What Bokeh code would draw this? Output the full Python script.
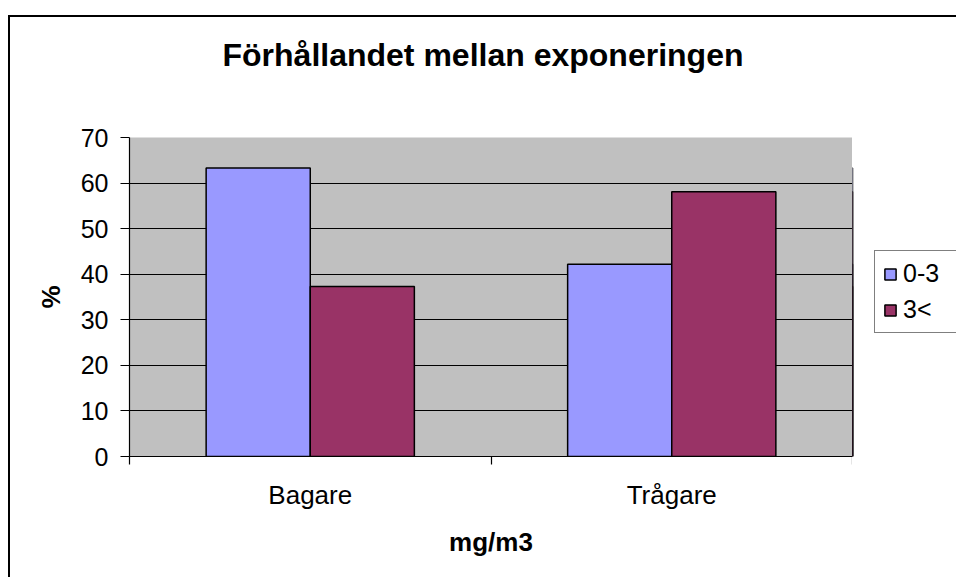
from bokeh.plotting import figure
from bokeh.layouts import row
from bokeh.models import (Range1d, FixedTicker, Legend, LegendItem, ColumnDataSource,
                          LinearAxis)
from bokeh.embed import file_html
from bokeh.resources import INLINE

categories = ["Bagare", "Trågare"]
series_names = ["0-3", "3<"]
values_low = [63.3, 42.2]    # 0-3
values_high = [37.3, 58.1]   # 3<
y_ticks = [0, 10, 20, 30, 40, 50, 60, 70]

colors = ["#9999FF", "#993366"]
FONT = "Liberation Sans"

p = figure(width=844, height=562, output_backend="svg", toolbar_location=None,
           x_range=Range1d(0, len(categories)), y_range=Range1d(0, 70),
           min_border_left=119, min_border_right=2,
           min_border_top=120, min_border_bottom=123,
           title="Förhållandet mellan exponeringen")
p.styles = {"margin-top": "15px", "margin-left": "8px",
            "border-top": "2px solid black", "border-left": "2px solid black"}
p.title.text_font = FONT
p.title.text_font_size = "32px"
p.title.text_font_style = "bold"
p.title.text_color = "black"
p.title.align = "left"
p.title.offset = 93
p.title.standoff = 10
p.background_fill_color = "#C0C0C0"
p.border_fill_color = "white"
p.outline_line_color = None

bar_w = 0.288
idx = [i + 0.5 for i in range(len(categories))]
src = ColumnDataSource(dict(
    cat=categories,
    x_low=[c - bar_w / 2 for c in idx],
    x_high=[c + bar_w / 2 for c in idx],
    low=values_low,
    high=values_high,
))
r_low = p.vbar(x="x_low", top="low", bottom=0, width=bar_w, source=src,
               fill_color=colors[0], line_color="black", line_width=1.5)
r_high = p.vbar(x="x_high", top="high", bottom=0, width=bar_w, source=src,
                fill_color=colors[1], line_color="black", line_width=1.5)

# grid
p.xgrid.visible = False
p.ygrid.ticker = FixedTicker(ticks=[t for t in y_ticks if 0 < t < 70])
p.ygrid.grid_line_color = "black"
p.ygrid.grid_line_width = 1

# y axis
ya = p.left[0]
ya.ticker = FixedTicker(ticks=y_ticks)
ya.axis_line_color = "black"
ya.axis_line_width = 1.2
ya.major_tick_in = 0
ya.major_tick_out = 9
ya.major_tick_line_color = "black"
ya.major_tick_line_width = 1.2
ya.minor_tick_line_color = None
ya.major_label_text_font = FONT
ya.major_label_text_font_size = "25px"
ya.major_label_text_color = "black"
ya.major_label_standoff = 12
ya.axis_label = "%"
ya.axis_label_text_font = FONT
ya.axis_label_text_font_size = "26px"
ya.axis_label_text_font_style = "bold"
ya.axis_label_text_color = "black"
ya.axis_label_standoff = 12

# x axis: labels at category centers, ticks at boundaries
xa = p.below[0]
xa.ticker = FixedTicker(ticks=idx, minor_ticks=list(range(len(categories) + 1)))
xa.major_label_overrides = {c: n for c, n in zip(idx, categories)}
xa.axis_line_color = "black"
xa.axis_line_width = 1.2
xa.major_tick_line_color = None
xa.major_tick_out = 0
xa.major_tick_in = 0
xa.minor_tick_line_color = "black"
xa.minor_tick_line_width = 1.2
xa.minor_tick_out = 8
xa.minor_tick_in = 0
xa.major_label_text_font = FONT
xa.major_label_text_font_size = "26px"
xa.major_label_text_color = "black"
xa.major_label_standoff = 15
xa.axis_label = "mg/m3"
xa.axis_label_text_font = FONT
xa.axis_label_text_font_size = "26px"
xa.axis_label_text_font_style = "bold"
xa.axis_label_text_color = "black"
xa.axis_label_standoff = 14

# blank spacer between the title and the plot area (white tick at the right edge)
edge = len(categories)
spacer = LinearAxis(ticker=FixedTicker(ticks=[edge]), major_tick_out=60, major_tick_in=0,
                    minor_tick_out=0, minor_tick_in=0, major_tick_line_color="white",
                    minor_tick_line_color=None, axis_line_color=None,
                    major_label_standoff=0, major_label_text_font_size="1px",
                    major_label_overrides={edge: ""})
p.add_layout(spacer, "above")

# legend panel at the right (legend glyphs come from the same data, drawn out of view)
p2 = figure(width=104, height=562, output_backend="svg", toolbar_location=None,
            x_range=Range1d(len(categories) + 1, len(categories) + 2),
            y_range=Range1d(0, 70),
            x_axis_location=None, y_axis_location=None,
            min_border_left=0, min_border_right=0, min_border_top=0,
            min_border_bottom=0)
p2.styles = {"margin-top": "15px", "border-top": "2px solid black"}
p2.outline_line_color = None
p2.background_fill_color = "white"
p2.border_fill_color = "white"
p2.grid.visible = False
k_low = p2.vbar(x="x_low", top="low", bottom=0, width=bar_w, source=src,
                fill_color=colors[0], line_color="black", line_width=1.5)
k_high = p2.vbar(x="x_high", top="high", bottom=0, width=bar_w, source=src,
                 fill_color=colors[1], line_color="black", line_width=1.5)

legend = Legend(items=[LegendItem(label=series_names[0], renderers=[k_low]),
                       LegendItem(label=series_names[1], renderers=[k_high])],
                location=(22, 123))
legend.label_text_font = FONT
legend.label_text_font_size = "25px"
legend.label_text_color = "black"
legend.glyph_width = 14
legend.glyph_height = 14
legend.label_standoff = 6
legend.label_width = 45
legend.padding = 8
legend.spacing = 7
legend.margin = 0
legend.border_line_color = "black"
legend.border_line_width = 1.5
legend.background_fill_color = "white"
legend.background_fill_alpha = 1
p2.add_layout(legend, "center")

layout = row(p, p2, spacing=0)
open("out.html", "w").write(file_html(layout, INLINE))
